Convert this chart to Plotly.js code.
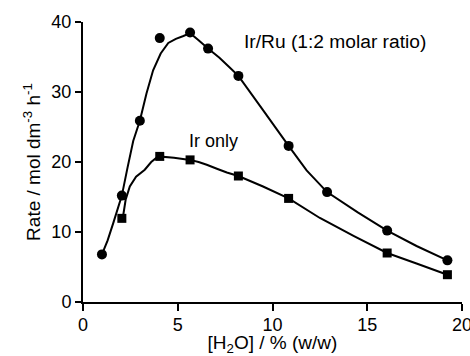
<!DOCTYPE html>
<html>
<head>
<meta charset="utf-8">
<script src="https://cdn.plot.ly/plotly-3.0.1.min.js"></script>
<style>html,body{margin:0;padding:0;background:#fff;}#chart{width:470px;height:356px;}</style>
</head>
<body>
<div id="chart"></div>
<script>
// Measured points
const irRuX = [1.0, 2.05, 3.0, 4.05, 5.65, 6.6, 8.2, 10.85, 12.88, 16.05, 19.23];
const irRuY = [6.8, 15.2, 25.9, 37.7, 38.5, 36.2, 32.3, 22.3, 15.7, 10.2, 5.95];
const irX = [2.05, 4.05, 5.65, 8.2, 10.85, 16.05, 19.23];
const irY = [11.95, 20.8, 20.3, 18.0, 14.8, 7.0, 3.9];
// Fitted curves
const irRuCurveX = [1.0, 1.3, 1.6, 2.05, 2.35, 2.65, 3.0, 3.35, 3.7, 4.1, 4.5, 4.9, 5.3, 5.65, 6.1, 6.6, 7.2, 7.7, 8.2, 9.5, 10.85, 11.8, 12.88, 14.5, 16.05, 17.6, 19.23];
const irRuCurveY = [6.8, 8.8, 11.3, 15.2, 19.2, 23.0, 25.9, 29.8, 33.1, 35.5, 37.0, 37.6, 38.0, 38.4, 37.4, 36.2, 34.9, 33.6, 32.3, 27.4, 22.3, 18.8, 15.7, 12.8, 10.2, 8.0, 5.95];
const irCurveX = [2.1, 2.25, 2.47, 2.8, 3.26, 3.6, 3.97, 4.8, 5.65, 6.1, 6.53, 7.1, 7.59, 8.2, 9.5, 10.85, 12.5, 14.3, 16.05, 17.6, 19.23];
const irCurveY = [12.0, 14.6, 16.5, 17.9, 18.9, 20.0, 20.8, 20.6, 20.3, 20.0, 19.6, 19.0, 18.5, 18.0, 16.5, 14.8, 12.0, 9.4, 7.0, 5.5, 3.9];
const xTicks = [0, 5, 10, 15, 20];
const yTicks = [0, 10, 20, 30, 40];
const labelIrRu = 'Ir/Ru (1:2 molar ratio)';
const labelIr = 'Ir only';

const FONT = 'Liberation Sans, Arial, sans-serif';
const traces = [
  {x: irRuCurveX, y: irRuCurveY, mode: 'lines', line: {color: '#000', width: 2, shape: 'linear', simplify: false}, hoverinfo: 'skip'},
  {x: irCurveX, y: irCurveY, mode: 'lines', line: {color: '#000', width: 2, shape: 'linear', simplify: false}, hoverinfo: 'skip'},
  {x: irRuX, y: irRuY, mode: 'markers', marker: {symbol: 'circle', size: 10, color: '#000'}},
  {x: irX, y: irY, mode: 'markers', marker: {symbol: 'square', size: 9, color: '#000'}}
];
const axisCommon = {
  showgrid: false, zeroline: false, showline: true, linecolor: '#000', linewidth: 2,
  ticks: 'outside', ticklen: 7, tickwidth: 2, tickcolor: '#000', ticklabeloverflow: 'allow',
  tickfont: {family: FONT, size: 18, color: '#000'}, automargin: false, fixedrange: true
};
const layout = {
  width: 470, height: 356,
  margin: {l: 83, r: 8, t: 22, b: 54},
  paper_bgcolor: '#fff', plot_bgcolor: '#fff',
  showlegend: false,
  xaxis: Object.assign({}, axisCommon, {
    range: [0, 20], tickvals: xTicks, ticktext: xTicks.map(String), ticklabelstandoff: -2,
    title: {text: '[H<sub>2</sub>O] / % (w/w)', font: {family: FONT, size: 19, color: '#000'}, standoff: 4}
  }),
  yaxis: Object.assign({}, axisCommon, {
    range: [0, 40], tickvals: yTicks, ticktext: yTicks.map(String), ticklen: 6,
    title: {text: 'Rate / mol dm<sup>-3</sup> h<sup>-1</sup>', font: {family: FONT, size: 19, color: '#000'}, standoff: 6}
  }),
  annotations: [
    {text: labelIrRu, showarrow: false, xanchor: 'left', yanchor: 'middle',
     font: {family: FONT, size: 19.2, color: '#000'}},
    {text: labelIr, showarrow: false, xanchor: 'left', yanchor: 'middle',
     font: {family: FONT, size: 18, color: '#000'}}
  ]
};
// place annotations in data coords from their pixel anchors
function px2x(p){ return (p - 83.3) / 18.92; }
function px2y(p){ return (302 - p) / 7.0; }
layout.annotations[0].x = px2x(242); layout.annotations[0].y = px2y(41);
layout.annotations[1].x = px2x(187); layout.annotations[1].y = px2y(141);
Plotly.newPlot('chart', traces, layout, {staticPlot: true, displayModeBar: false});
</script>
</body>
</html>
